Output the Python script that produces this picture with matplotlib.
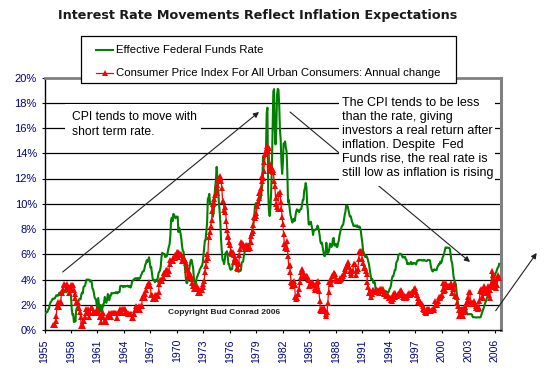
import matplotlib
matplotlib.use("Agg")
import matplotlib.pyplot as plt
from matplotlib.lines import Line2D
from matplotlib.patches import Rectangle

# ---------------- data (monthly, %) ----------------
fed_start_year = 1955
fed_funds = [
    1.39, 1.29, 1.35, 1.43, 1.43, 1.64, 1.68, 1.96, 2.18, 2.24, 2.35, 2.48,   # 1955
    2.45, 2.50, 2.50, 2.62, 2.75, 2.71, 2.75, 2.73, 2.95, 2.96, 2.88, 2.94,   # 1956
    2.84, 3.00, 2.96, 3.00, 3.00, 3.00, 2.99, 3.24, 3.47, 3.50, 3.28, 2.98,   # 1957
    2.72, 1.67, 1.20, 1.26, 0.63, 0.93, 0.68, 1.53, 1.76, 1.80, 2.27, 2.42,   # 1958
    2.48, 2.43, 2.80, 2.96, 2.90, 3.39, 3.47, 3.50, 3.76, 3.98, 4.00, 3.99,   # 1959
    3.99, 3.97, 3.84, 3.92, 3.85, 3.32, 3.23, 2.98, 2.60, 2.47, 2.44, 1.98,   # 1960
    1.45, 2.54, 2.02, 1.49, 1.98, 1.73, 1.17, 2.00, 1.88, 2.26, 2.62, 2.33,   # 1961
    2.15, 2.37, 2.85, 2.78, 2.36, 2.68, 2.71, 2.93, 2.90, 2.90, 2.94, 2.93,   # 1962
    2.92, 3.00, 2.98, 2.90, 3.00, 2.99, 3.02, 3.49, 3.48, 3.50, 3.48, 3.38,   # 1963
    3.48, 3.48, 3.43, 3.47, 3.50, 3.50, 3.42, 3.50, 3.45, 3.36, 3.52, 3.85,   # 1964
    3.90, 3.98, 4.04, 4.09, 4.10, 4.04, 4.09, 4.12, 4.01, 4.08, 4.10, 4.32,   # 1965
    4.42, 4.60, 4.65, 4.67, 4.90, 5.17, 5.30, 5.53, 5.40, 5.53, 5.76, 5.40,   # 1966
    4.94, 5.00, 4.53, 4.05, 3.94, 3.98, 3.79, 3.90, 3.99, 3.88, 4.13, 4.51,   # 1967
    4.61, 4.71, 5.05, 5.76, 6.11, 6.07, 6.03, 6.03, 5.78, 5.91, 5.82, 6.02,   # 1968
    6.30, 6.61, 6.79, 7.41, 8.67, 8.90, 8.61, 9.19, 9.15, 9.00, 8.85, 8.97,   # 1969
    8.98, 8.98, 7.76, 8.10, 7.95, 7.61, 7.21, 6.61, 6.29, 6.20, 5.60, 4.90,   # 1970
    4.14, 3.72, 3.71, 4.16, 4.63, 4.91, 5.31, 5.56, 5.55, 5.20, 4.91, 4.14,   # 1971
    3.50, 3.29, 3.83, 4.17, 4.27, 4.46, 4.55, 4.80, 4.87, 5.04, 5.06, 5.33,   # 1972
    5.94, 6.58, 7.09, 7.12, 7.84, 8.49, 10.40, 10.50, 10.78, 10.01, 10.03, 9.95,  # 1973
    9.65, 8.97, 9.35, 10.51, 11.31, 11.93, 12.92, 12.01, 11.34, 10.06, 9.45, 8.53,  # 1974
    7.13, 6.24, 5.54, 5.49, 5.22, 5.55, 6.10, 6.14, 6.24, 5.82, 5.22, 5.20,   # 1975
    4.87, 4.77, 4.84, 4.82, 5.29, 5.48, 5.31, 5.29, 5.25, 5.03, 4.95, 4.65,   # 1976
    4.61, 4.68, 4.69, 4.73, 5.35, 5.39, 5.42, 5.90, 6.14, 6.47, 6.51, 6.56,   # 1977
    6.70, 6.78, 6.79, 6.89, 7.36, 7.60, 7.81, 8.04, 8.45, 8.96, 9.76, 10.03,  # 1978
    10.07, 10.06, 10.09, 10.01, 10.24, 10.29, 10.47, 10.94, 11.43, 13.77, 13.18, 13.78,  # 1979
    13.82, 14.13, 17.19, 17.61, 10.98, 9.47, 9.03, 9.61, 10.87, 12.81, 15.85, 18.90,  # 1980
    19.08, 15.93, 14.70, 15.72, 18.52, 19.10, 19.04, 17.82, 15.87, 15.08, 13.31, 12.37,  # 1981
    13.22, 14.78, 14.68, 14.94, 14.45, 14.15, 12.59, 10.12, 10.31, 9.71, 9.20, 8.95,  # 1982
    8.68, 8.51, 8.77, 8.80, 8.63, 8.98, 9.37, 9.56, 9.45, 9.48, 9.34, 9.47,   # 1983
    9.56, 9.59, 9.91, 10.29, 10.32, 11.06, 11.23, 11.64, 11.30, 9.99, 9.43, 8.38,  # 1984
    8.35, 8.50, 8.58, 8.27, 7.97, 7.53, 7.88, 7.90, 7.92, 7.99, 8.05, 8.27,   # 1985
    8.14, 7.86, 7.48, 6.99, 6.85, 6.92, 6.56, 6.17, 5.89, 5.85, 6.04, 6.91,   # 1986
    6.43, 6.10, 6.13, 6.37, 6.85, 6.73, 6.58, 6.73, 7.22, 7.29, 6.69, 6.77,   # 1987
    6.83, 6.58, 6.58, 6.87, 7.09, 7.51, 7.75, 8.01, 8.19, 8.30, 8.35, 8.76,   # 1988
    9.12, 9.36, 9.85, 9.84, 9.81, 9.53, 9.24, 8.99, 9.02, 8.84, 8.55, 8.45,   # 1989
    8.23, 8.24, 8.28, 8.26, 8.18, 8.29, 8.15, 8.13, 8.20, 8.11, 7.81, 7.31,   # 1990
    6.91, 6.25, 6.12, 5.91, 5.78, 5.90, 5.82, 5.66, 5.45, 5.21, 4.81, 4.43,   # 1991
    4.03, 4.06, 3.98, 3.73, 3.82, 3.76, 3.25, 3.30, 3.22, 3.10, 3.09, 2.92,   # 1992
    3.02, 3.03, 3.07, 2.96, 3.00, 3.04, 3.06, 3.03, 3.09, 2.99, 3.02, 2.96,   # 1993
    3.05, 3.25, 3.34, 3.56, 4.01, 4.25, 4.26, 4.47, 4.73, 4.76, 5.29, 5.45,   # 1994
    5.53, 5.92, 5.98, 6.05, 6.01, 6.00, 5.85, 5.74, 5.80, 5.76, 5.80, 5.60,   # 1995
    5.56, 5.22, 5.31, 5.22, 5.24, 5.27, 5.40, 5.22, 5.30, 5.24, 5.31, 5.29,   # 1996
    5.25, 5.19, 5.39, 5.51, 5.50, 5.56, 5.52, 5.54, 5.54, 5.50, 5.52, 5.50,   # 1997
    5.56, 5.51, 5.49, 5.45, 5.49, 5.56, 5.54, 5.55, 5.51, 5.07, 4.83, 4.68,   # 1998
    4.63, 4.76, 4.81, 4.74, 4.74, 4.76, 4.99, 5.07, 5.22, 5.20, 5.42, 5.30,   # 1999
    5.45, 5.73, 5.85, 6.02, 6.27, 6.53, 6.54, 6.50, 6.52, 6.51, 6.51, 6.40,   # 2000
    5.98, 5.49, 5.31, 4.80, 4.21, 3.97, 3.77, 3.65, 3.07, 2.49, 2.09, 1.82,   # 2001
    1.73, 1.74, 1.73, 1.75, 1.75, 1.75, 1.73, 1.74, 1.75, 1.75, 1.34, 1.24,   # 2002
    1.24, 1.26, 1.25, 1.26, 1.26, 1.22, 1.01, 1.03, 1.01, 1.01, 1.00, 0.98,   # 2003
    1.00, 1.01, 1.00, 1.00, 1.00, 1.03, 1.26, 1.43, 1.61, 1.76, 1.93, 2.16,   # 2004
    2.28, 2.50, 2.63, 2.79, 3.00, 3.04, 3.26, 3.50, 3.62, 3.78, 4.00, 4.16,   # 2005
    4.29, 4.49, 4.59, 4.79, 4.94, 4.99, 5.24,                                 # 2006
]

cpi_start_year = 1956
cpi_change = [
    0.37, 0.37, 0.37, 0.74, 1.12, 1.85, 2.22, 1.84, 1.83, 2.20, 2.19, 2.91,   # 1956
    2.90, 3.26, 3.62, 3.60, 3.59, 3.27, 3.25, 3.61, 3.24, 2.90, 3.22, 3.21,   # 1957
    3.55, 3.20, 3.55, 3.54, 3.19, 2.84, 2.51, 2.17, 2.17, 2.16, 2.16, 1.77,   # 1958
    1.40, 1.03, 0.34, 0.34, 0.34, 0.69, 0.69, 1.03, 1.36, 1.70, 1.36, 1.69,   # 1959
    1.03, 1.36, 1.37, 1.71, 1.71, 1.71, 1.36, 1.36, 1.35, 1.35, 1.35, 1.34,   # 1960
    1.68, 1.34, 1.34, 1.00, 1.00, 0.67, 1.34, 1.00, 1.34, 0.67, 0.67, 0.67,   # 1961
    0.67, 1.00, 1.00, 1.33, 1.00, 1.00, 1.00, 1.33, 1.33, 1.33, 1.33, 1.32,   # 1962
    1.32, 1.32, 0.99, 0.99, 1.32, 1.32, 1.65, 1.32, 1.32, 1.32, 1.65, 1.64,   # 1963
    1.64, 1.31, 1.64, 1.31, 1.31, 1.31, 1.30, 1.30, 1.30, 1.30, 1.29, 0.97,   # 1964
    0.97, 1.29, 1.29, 1.62, 1.62, 1.94, 1.62, 1.62, 1.61, 1.93, 1.61, 1.92,   # 1965
    1.92, 2.56, 2.55, 2.86, 2.54, 2.85, 3.17, 3.48, 3.48, 3.47, 3.78, 3.45,   # 1966
    3.45, 2.81, 2.80, 2.49, 2.48, 2.47, 2.76, 2.45, 2.75, 2.74, 2.73, 3.04,   # 1967
    3.65, 3.95, 3.94, 3.93, 3.92, 4.21, 4.51, 4.49, 4.47, 4.76, 4.74, 4.72,   # 1968
    4.40, 4.68, 5.25, 5.52, 5.50, 5.48, 5.45, 5.70, 5.68, 5.67, 5.93, 5.89,   # 1969
    6.16, 6.14, 5.82, 6.06, 6.03, 6.01, 5.98, 5.44, 5.68, 5.65, 5.63, 5.57,   # 1970
    5.29, 5.00, 4.72, 4.16, 4.40, 4.63, 4.33, 4.30, 4.03, 3.75, 3.48, 3.27,   # 1971
    3.27, 3.51, 3.50, 3.49, 3.23, 2.97, 2.95, 2.94, 3.19, 3.19, 3.18, 3.41,   # 1972
    3.65, 3.88, 4.59, 5.07, 5.55, 6.04, 5.73, 7.38, 7.36, 7.80, 8.25, 8.71,   # 1973
    9.39, 9.99, 10.39, 10.09, 10.71, 10.86, 11.51, 10.86, 11.95, 12.06, 12.06, 12.20,  # 1974
    11.80, 11.23, 10.25, 10.21, 9.47, 9.38, 9.72, 8.60, 7.91, 7.44, 7.38, 6.94,  # 1975
    6.72, 6.29, 6.07, 6.05, 6.20, 5.97, 5.35, 5.71, 5.49, 5.46, 4.88, 4.86,   # 1976
    5.21, 5.92, 6.44, 6.95, 6.72, 6.87, 6.83, 6.62, 6.60, 6.39, 6.72, 6.70,   # 1977
    6.47, 6.44, 6.55, 6.50, 6.97, 7.41, 7.70, 7.83, 8.31, 8.93, 8.88, 9.03,   # 1978
    9.28, 9.86, 10.09, 10.49, 10.85, 10.88, 11.26, 11.82, 12.18, 12.07, 12.61, 13.29,  # 1979
    13.91, 14.18, 14.59, 14.43, 14.14, 14.38, 13.13, 12.87, 12.60, 12.77, 12.65, 12.52,  # 1980
    11.83, 11.41, 10.49, 9.99, 9.78, 9.55, 10.76, 10.81, 10.95, 10.14, 9.59, 8.92,  # 1981
    8.39, 7.62, 6.78, 6.51, 6.68, 7.06, 6.44, 5.85, 5.04, 5.14, 4.59, 3.83,   # 1982
    3.71, 3.49, 3.60, 3.90, 3.55, 2.58, 2.46, 2.56, 2.86, 2.85, 3.27, 3.79,   # 1983
    4.19, 4.60, 4.80, 4.56, 4.23, 4.22, 4.20, 4.29, 4.27, 4.26, 4.05, 3.95,   # 1984
    3.52, 3.52, 3.70, 3.69, 3.78, 3.76, 3.55, 3.35, 3.14, 3.23, 3.51, 3.80,   # 1985
    3.89, 3.11, 2.26, 1.59, 1.49, 1.77, 1.58, 1.57, 1.75, 1.47, 1.28, 1.10,   # 1986
    1.46, 2.10, 3.03, 3.78, 3.86, 3.65, 3.93, 4.28, 4.36, 4.53, 4.53, 4.43,   # 1987
    4.03, 3.93, 3.92, 3.91, 3.90, 3.96, 4.13, 4.02, 4.17, 4.25, 4.25, 4.42,   # 1988
    4.67, 4.83, 4.98, 5.11, 5.36, 5.17, 4.98, 4.71, 4.34, 4.49, 4.66, 4.65,   # 1989
    5.21, 5.26, 5.23, 4.71, 4.36, 4.67, 4.82, 5.62, 6.16, 6.29, 6.27, 6.11,   # 1990
    5.65, 5.31, 4.89, 4.89, 4.95, 4.70, 4.45, 3.80, 3.39, 2.92, 2.99, 3.06,   # 1991
    2.60, 2.82, 3.19, 3.18, 3.02, 3.09, 3.16, 3.15, 2.99, 3.20, 3.05, 2.90,   # 1992
    3.26, 3.25, 3.09, 3.23, 3.22, 2.94, 2.86, 2.85, 2.70, 2.76, 2.68, 2.75,   # 1993
    2.52, 2.51, 2.51, 2.36, 2.29, 2.49, 2.77, 2.90, 2.96, 2.61, 2.67, 2.67,   # 1994
    2.80, 2.86, 2.85, 3.05, 3.19, 3.04, 2.76, 2.62, 2.54, 2.81, 2.61, 2.54,   # 1995
    2.73, 2.65, 2.84, 2.90, 2.89, 2.75, 2.95, 2.88, 3.01, 2.99, 3.26, 3.32,   # 1996
    3.04, 3.03, 2.76, 2.50, 2.23, 2.30, 2.23, 2.23, 2.15, 2.08, 1.88, 1.70,   # 1997
    1.57, 1.44, 1.37, 1.44, 1.69, 1.68, 1.68, 1.62, 1.49, 1.49, 1.55, 1.61,   # 1998
    1.67, 1.61, 1.73, 2.28, 2.09, 1.96, 2.14, 2.33, 2.58, 2.57, 2.63, 2.68,   # 1999
    2.79, 3.22, 3.76, 3.07, 3.19, 3.73, 3.66, 3.41, 3.45, 3.45, 3.45, 3.39,   # 2000
    3.73, 3.53, 2.92, 3.27, 3.62, 3.25, 2.72, 2.72, 2.65, 2.13, 1.90, 1.55,   # 2001
    1.14, 1.14, 1.48, 1.64, 1.18, 1.07, 1.46, 1.80, 1.51, 2.03, 2.20, 2.38,   # 2002
    2.60, 2.98, 3.02, 2.22, 2.06, 2.11, 2.11, 2.16, 2.32, 2.04, 1.77, 1.88,   # 2003
    1.93, 1.69, 1.74, 2.29, 3.05, 3.27, 2.99, 2.65, 2.54, 3.19, 3.52, 3.26,   # 2004
    2.97, 3.01, 3.15, 3.51, 2.80, 2.53, 3.17, 3.64, 4.69, 4.35, 3.46, 3.42,   # 2005
    3.99, 3.60, 3.36, 3.55, 4.17, 4.32, 4.15,                                 # 2006
]

tick_years = [1955, 1958, 1961, 1964, 1967, 1970, 1973, 1976, 1979, 1982,
              1985, 1988, 1991, 1994, 1997, 2000, 2003, 2006]
y_ticks = [0, 2, 4, 6, 8, 10, 12, 14, 16, 18, 20]

title = "Interest Rate Movements Reflect Inflation Expectations"
label_fed = "Effective Federal Funds Rate"
label_cpi = "Consumer Price Index For All Urban Consumers: Annual change"
note_left = "CPI tends to move with\nshort term rate."
note_right = ("The CPI tends to be less\nthan the rate, giving\ninvestors a real return after\n"
              "inflation. Despite  Fed\nFunds rise, the real rate is\nstill low as inflation is rising")
copyright_txt = "Copyright Bud Conrad 2006"

# ---------------- figure ----------------
W, H = 544, 370
plt.rcParams['font.family'] = ['Liberation Sans', 'DejaVu Sans']
fig = plt.figure(figsize=(W / 100, H / 100), dpi=100)
fig.patch.set_facecolor('white')

def F(x, y):
    """image-pixel -> figure fraction"""
    return (x / W, 1 - y / H)

GREEN = '#008000'
RED = '#ff0000'
NAVY = '#000080'
TXT = 8.2

ax_l, ax_r, ax_t, ax_b = 44.5, 500.7, 77.5, 330.0
ax = fig.add_axes([ax_l / W, 1 - ax_b / H, (ax_r - ax_l) / W, (ax_b - ax_t) / H])
ax.set_facecolor('white')

fed_x = [fed_start_year + i / 12 for i in range(len(fed_funds))]
cpi_x = [cpi_start_year + i / 12 for i in range(len(cpi_change))]

ax.plot(fed_x, fed_funds, color=GREEN, lw=1.5, zorder=3)
ax.plot(cpi_x, cpi_change, color=RED, lw=0.9, marker='^', markersize=4.2,
        markeredgewidth=0, zorder=4)

ax.set_xlim(1955, 2006.67)
ax.set_ylim(0, 20)
ax.set_yticks(y_ticks)
ax.set_yticklabels([f"{v}%" for v in y_ticks])
ax.set_xticks(tick_years)
ax.set_xticklabels([str(y) for y in tick_years], rotation=90)
ax.tick_params(axis='y', length=2.5, width=0.8, pad=3, labelsize=8, labelcolor=NAVY)
ax.tick_params(axis='x', length=2.5, width=0.8, pad=4, labelsize=7.6, labelcolor=NAVY)
for g in y_ticks[1:-1]:
    ax.axhline(g, color='black', lw=0.9, zorder=1)

ax.spines['left'].set_color('black')
ax.spines['left'].set_linewidth(1.0)
ax.spines['bottom'].set_color('black')
ax.spines['bottom'].set_linewidth(1.0)
ax.spines['top'].set_color('#808080')
ax.spines['top'].set_linewidth(2.0)
ax.spines['right'].set_color('#808080')
ax.spines['right'].set_linewidth(2.2)

# ---------------- title ----------------
fig.text(*F(257.5, 15), title, ha='center', va='center', fontsize=9.2,
         fontweight='bold', family='DejaVu Sans', color='#1a1a1a')

# ---------------- legend (drawn as in Excel) ----------------
lx0, ly0, lx1, ly1 = 81, 36, 456, 83
fig.add_artist(Rectangle(F(lx0, ly1), (lx1 - lx0) / W, (ly1 - ly0) / H,
                         transform=fig.transFigure, facecolor='white',
                         edgecolor='black', lw=0.9, zorder=5))
for yy, col, lab, mk in [(50, GREEN, label_fed, None), (73, RED, label_cpi, '^')]:
    p0, p1 = F(96, yy), F(113, yy)
    fig.add_artist(Line2D([p0[0], p1[0]], [p0[1], p1[1]], color=col,
                          lw=1.5 if mk is None else 0.9,
                          transform=fig.transFigure, zorder=6))
    if mk:
        pm = F(104.5, yy)
        fig.add_artist(Line2D([pm[0]], [pm[1]], color=col, marker=mk, markersize=4.2,
                              markeredgewidth=0, transform=fig.transFigure, zorder=6))
    fig.text(*F(116, yy), lab, ha='left', va='center', fontsize=TXT, zorder=6)

# ---------------- annotations ----------------
arrow_kw = dict(arrowstyle='-|>', color='#202020', lw=0.8, mutation_scale=8,
                shrinkA=0, shrinkB=0)
for start, end in [((62.7, 272), (259, 112)),
                   ((290, 112), (470, 262)),
                   ((495.7, 310.7), (536.7, 253))]:
    ax.annotate('', xy=F(*end), xytext=F(*start), xycoords='figure fraction',
                textcoords='figure fraction', arrowprops=arrow_kw,
                annotation_clip=False, zorder=7)

# white boxes behind the notes (hide gridlines / arrow)
for (x0, y0, x1, y1) in [(65, 104, 201, 138), (339, 92, 495, 186)]:
    fig.add_artist(Rectangle(F(x0, y1), (x1 - x0) / W, (y1 - y0) / H,
                             transform=fig.transFigure, facecolor='white',
                             edgecolor='none', zorder=8))

fig.text(*F(72, 111.5), note_left, ha='left', va='top', fontsize=8.7,
         linespacing=1.33, zorder=9)
fig.text(*F(341.5, 96.5), note_right, ha='left', va='top', fontsize=9.0,
         linespacing=1.23, zorder=9)

fig.text(*F(168, 313), copyright_txt, ha='left', va='center', fontsize=6,
         fontweight='bold', color='#202020', zorder=9)

fig.savefig("out.png", dpi=100, facecolor='white')
